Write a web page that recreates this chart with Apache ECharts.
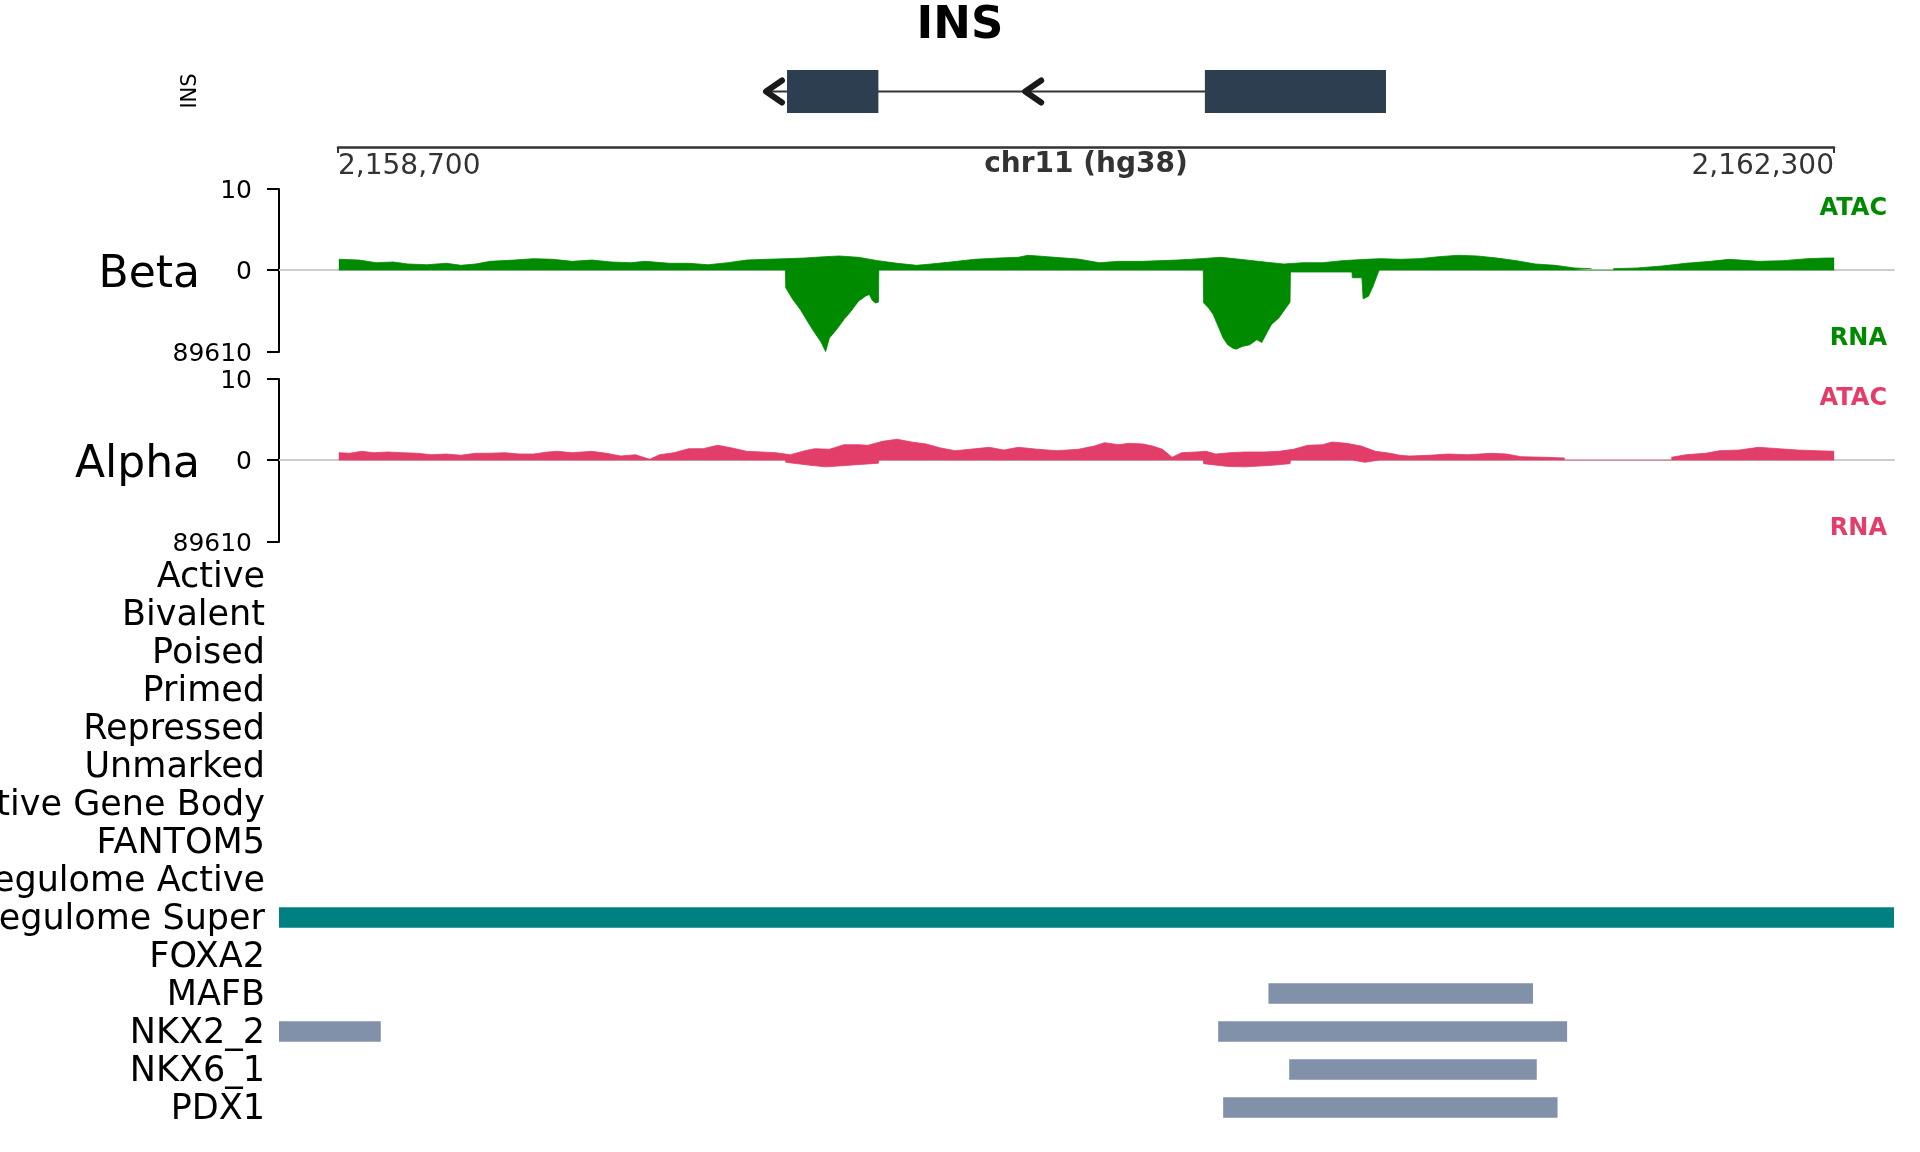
<!DOCTYPE html>
<html><head><meta charset="utf-8">
<script src="https://cdn.jsdelivr.net/npm/echarts@6/dist/echarts.min.js"></script>
<style>html,body{margin:0;padding:0;background:#fff}#c{width:1920px;height:1152px}</style>
</head><body><div id="c"></div>
<script>
// ---------------- data ----------------
const regionStart = 2158700, regionEnd = 2162300;
const viewStart = 2158556, viewEnd = 2162444;
const chromLabel = 'chr11 (hg38)';
const geneName = 'INS';
const geneExons = [[2159779, 2159999], [2160785, 2161221]];
const geneSpan = [2159726, 2161221];
const geneArrows = [2159726, 2160350];
const atacMax = 10, rnaMax = 89610;
const cellTypes = ['Beta', 'Alpha'];

const betaAtac = [[2158700,1.32],[2158749,1.23],[2158790,0.90],[2158831,0.99],[2158866,0.74],[2158912,0.65],[2158959,0.83],[2158994,0.58],[2159029,0.74],[2159064,1.07],[2159122,1.23],[2159169,1.40],[2159216,1.32],[2159262,1.07],[2159309,1.23],[2159356,0.99],[2159402,0.90],[2159437,1.07],[2159496,0.83],[2159542,0.83],[2159589,0.65],[2159636,0.90],[2159682,1.23],[2159729,1.32],[2159776,1.40],[2159822,1.48],[2159869,1.64],[2159904,1.73],[2159951,1.57],[2159998,1.15],[2160044,0.83],[2160091,0.58],[2160126,0.74],[2160173,0.99],[2160231,1.32],[2160289,1.48],[2160336,1.57],[2160359,1.82],[2160406,1.64],[2160480,1.35],[2160531,0.90],[2160578,1.07],[2160636,1.07],[2160718,1.23],[2160776,1.40],[2160823,1.57],[2160870,1.32],[2160928,0.99],[2160975,0.74],[2161021,0.90],[2161068,0.90],[2161115,1.15],[2161173,1.32],[2161208,1.40],[2161255,1.32],[2161301,1.40],[2161348,1.64],[2161395,1.82],[2161441,1.73],[2161488,1.48],[2161535,1.15],[2161581,0.74],[2161628,0.58],[2161675,0.25],[2161716,0.16],[2161740,null],[2161768,0.16],[2161826,0.25],[2161885,0.49],[2161943,0.83],[2162002,1.07],[2162048,1.32],[2162118,1.07],[2162177,1.15],[2162235,1.40],[2162282,1.48],[2162300,1.48]];

const betaRna = [[2158700,0],[2159775,0],[2159776,19500],[2159793,32200],[2159811,43200],[2159828,56100],[2159846,68900],[2159860,78100],[2159872,89100],[2159881,74400],[2159898,65200],[2159916,54200],[2159933,45100],[2159951,34100],[2159968,28600],[2159977,26700],[2159984,33000],[2159992,36000],[2159999,35200],[2160000,0],[2160781,0],[2160782,36000],[2160794,41500],[2160805,48700],[2160817,61600],[2160829,74400],[2160840,81700],[2160852,85400],[2160860,86500],[2160875,83600],[2160893,81700],[2160910,76200],[2160922,79200],[2160934,68900],[2160945,59700],[2160963,52400],[2160980,41500],[2160990,35200],[2160991,2200],[2161139,2200],[2161140,8500],[2161163,8500],[2161166,31600],[2161179,28600],[2161190,17600],[2161202,3000],[2161205,0],[2162300,0]];

const alphaAtac = [[2158700,0.90],[2158726,0.83],[2158755,1.07],[2158784,0.90],[2158819,0.99],[2158854,0.90],[2158889,0.83],[2158924,0.65],[2158959,0.74],[2158994,0.58],[2159029,0.83],[2159064,0.83],[2159099,0.90],[2159134,0.74],[2159169,0.74],[2159204,0.99],[2159227,1.07],[2159262,0.90],[2159309,1.07],[2159344,0.83],[2159379,0.49],[2159414,0.65],[2159449,0.09],[2159472,0.65],[2159507,0.90],[2159542,1.40],[2159577,1.40],[2159612,1.82],[2159647,1.48],[2159682,1.07],[2159717,0.99],[2159752,0.90],[2159787,0.65],[2159822,1.15],[2159846,1.40],[2159881,1.32],[2159916,1.89],[2159951,1.89],[2159974,1.82],[2160009,2.31],[2160044,2.56],[2160079,2.22],[2160114,1.98],[2160149,1.48],[2160184,1.15],[2160219,1.32],[2160266,1.57],[2160301,1.23],[2160336,1.57],[2160383,1.32],[2160429,1.15],[2160480,1.32],[2160519,1.73],[2160543,2.14],[2160578,1.89],[2160601,2.06],[2160636,1.98],[2160659,1.73],[2160683,1.32],[2160706,0.33],[2160729,0.90],[2160764,0.99],[2160788,1.07],[2160811,0.74],[2160846,0.90],[2160881,0.99],[2160928,0.99],[2160963,1.07],[2160998,1.32],[2161033,1.82],[2161068,1.89],[2161091,2.22],[2161126,2.06],[2161161,1.73],[2161196,1.07],[2161231,0.83],[2161255,0.58],[2161278,0.49],[2161325,0.58],[2161371,0.74],[2161418,0.65],[2161476,0.83],[2161511,0.74],[2161546,0.41],[2161605,0.33],[2161651,0.25],[2161700,null],[2161908,0.33],[2161943,0.65],[2161990,0.83],[2162025,1.15],[2162072,1.23],[2162118,1.57],[2162165,1.40],[2162212,1.23],[2162258,1.15],[2162300,1.07]];

const alphaRna = [[2158700,0],[2159775,0],[2159776,2500],[2159830,5500],[2159872,7500],[2159920,6000],[2159999,3500],[2160000,0],[2160781,0],[2160782,4000],[2160840,7000],[2160880,7500],[2160940,6000],[2160990,4000],[2160991,0],[2161140,0],[2161141,1500],[2161170,2500],[2161205,0],[2162300,0]];

const trackNames = ['Active','Bivalent','Poised','Primed','Repressed','Unmarked','Active Gene Body','FANTOM5','Regulome Active','Regulome Super','FOXA2','MAFB','NKX2_2','NKX6_1','PDX1'];
// [track name, start, end]
const trackIntervals = [
  ['Regulome Super', 2158400, 2162600],
  ['MAFB', 2160938, 2161575],
  ['NKX2_2', 2158400, 2158801],
  ['NKX2_2', 2160817, 2161657],
  ['NKX6_1', 2160988, 2161584],
  ['PDX1', 2160829, 2161634]
];

// ---------------- style ----------------
const FONT = 'DejaVu Sans';
const GREEN = '#008A00', PINK = '#E23E69', TEAL = '#008080', SLATE = '#8191A9', EXON = '#2D3E50';
const cellColors = {Beta: GREEN, Alpha: PINK};

const chart = echarts.init(document.getElementById('c'), null, {renderer: 'canvas'});
const fmt = v => Math.round(v).toLocaleString('en-US');

const G = (o) => Object.assign({containLabel: false, outerBoundsMode: 'none'}, o);
const grids = [
  G({left: 338, right: 86, top: 100, height: 47}),   // 0 coordinate ruler
  G({left: 279, right: 26, top: 70, height: 43}),    // 1 gene
  G({left: 279, right: 26, top: 189, height: 81}),   // 2 beta atac
  G({left: 279, right: 26, top: 270, height: 82}),   // 3 beta rna
  G({left: 279, right: 26, top: 379, height: 81}),   // 4 alpha atac
  G({left: 279, right: 26, top: 460, height: 82}),   // 5 alpha rna
  G({left: 279, right: 26, top: 556.5, height: 570}) // 6 annotations
];

const hiddenX = (gi) => ({type: 'value', gridIndex: gi, min: viewStart, max: viewEnd, show: false});
const zeroX = (gi) => ({type: 'value', gridIndex: gi, min: viewStart, max: viewEnd,
  axisLine: {show: true, onZero: false, lineStyle: {color: '#cccccc', width: 2}},
  axisTick: {show: false}, axisLabel: {show: false}, splitLine: {show: false}});
const xAxes = [
  {type: 'value', gridIndex: 0, min: regionStart, max: regionEnd, interval: regionEnd - regionStart,
   axisLine: {show: true, lineStyle: {color: '#333', width: 2.5}},
   axisTick: {show: true, length: 6, lineStyle: {color: '#333', width: 2}},
   splitLine: {show: false},
   axisLabel: {formatter: fmt, fontFamily: FONT, fontSize: 28, color: '#333', margin: 6,
     alignMinLabel: 'left', alignMaxLabel: 'right', showMinLabel: true, showMaxLabel: true}},
  hiddenX(1), zeroX(2), hiddenX(3), zeroX(4), hiddenX(5), hiddenX(6)
];

const sigAxis = (gi, max, inverse) => ({
  type: 'value', gridIndex: gi, min: 0, max: max, interval: max, inverse: inverse,
  axisLine: {show: true, lineStyle: {color: '#000', width: 2}},
  axisTick: {show: true, length: 12, lineStyle: {color: '#000', width: 2}},
  splitLine: {show: false},
  axisLabel: {fontFamily: FONT, fontSize: 25, color: '#000', margin: 27,
    formatter: v => (inverse && v === 0) ? '' : '{t|' + v + '}',
    rich: {t: {fontFamily: FONT, fontSize: 25, color: '#000', padding: [5, 0, 0, 0]}}}
});
const yAxes = [
  {type: 'value', gridIndex: 0, show: false},
  {type: 'value', gridIndex: 1, min: 0, max: 1, show: false},
  sigAxis(2, atacMax, false),
  sigAxis(3, rnaMax, true),
  sigAxis(4, atacMax, false),
  sigAxis(5, rnaMax, true),
  {type: 'category', gridIndex: 6, data: trackNames, inverse: true,
   axisLine: {show: false}, axisTick: {show: false}, splitLine: {show: false},
   axisLabel: {fontFamily: FONT, fontSize: 35, color: '#000', margin: 14, interval: 0,
     formatter: v => '{t|' + v + '}',
     rich: {t: {fontFamily: FONT, fontSize: 35, color: '#000', padding: [5, 0, 0, 0]}}}}
];

const signal = (data, gi, color) => ({
  type: 'line', xAxisIndex: gi, yAxisIndex: gi, data: data, showSymbol: false, symbol: 'none',
  connectNulls: false, animation: false, clip: true, z: 1,
  lineStyle: {color: color, width: 0.8}, areaStyle: {color: color, opacity: 1}
});

const series = [
  {type: 'custom', xAxisIndex: 1, yAxisIndex: 1, data: [geneSpan], animation: false,
   renderItem: (p, api) => {
     const a = api.coord([api.value(0), 0.5]), b = api.coord([api.value(1), 0.5]);
     return {type: 'line', shape: {x1: a[0], y1: a[1], x2: b[0], y2: b[1]}, style: {stroke: '#333', lineWidth: 2}};
   }},
  {type: 'custom', xAxisIndex: 1, yAxisIndex: 1, data: geneArrows.map(v => [v]), animation: false,
   renderItem: (p, api) => {
     const t = api.coord([api.value(0), 0.5]);
     return {type: 'polyline', shape: {points: [[t[0] + 17, t[1] - 11], [t[0] + 1, t[1]], [t[0] + 17, t[1] + 11]]},
       style: {stroke: '#1a1a1a', lineWidth: 6, fill: null, lineJoin: 'round', lineCap: 'round'}};
   }},
  {type: 'custom', xAxisIndex: 1, yAxisIndex: 1, data: geneExons, animation: false,
   renderItem: (p, api) => {
     const a = api.coord([api.value(0), 1]), b = api.coord([api.value(1), 0]);
     return {type: 'rect', shape: {x: a[0], y: a[1], width: b[0] - a[0], height: b[1] - a[1]}, style: {fill: EXON}};
   }},
  signal(betaAtac, 2, GREEN),
  signal(betaRna, 3, GREEN),
  signal(alphaAtac, 4, PINK),
  signal(alphaRna, 5, PINK),
  {type: 'custom', xAxisIndex: 6, yAxisIndex: 6, animation: false, clip: true,
   encode: {x: [1, 2], y: 0},
   data: trackIntervals.map(d => ({value: [trackNames.indexOf(d[0]), d[1], d[2]],
     itemStyle: {color: d[0] === 'Regulome Super' ? TEAL : SLATE}})),
   renderItem: (p, api) => {
     const row = api.value(0);
     const a = api.coord([api.value(1), row]), b = api.coord([api.value(2), row]);
     const h = api.size([0, 1])[1] * 0.545;
     const cs = p.coordSys;
     const shape = echarts.graphic.clipRectByRect({x: a[0], y: a[1] - h / 2, width: b[0] - a[0], height: h},
       {x: cs.x, y: cs.y, width: cs.width, height: cs.height});
     return shape && {type: 'rect', shape: shape, style: {fill: api.visual('color')}};
   }}
];

const txt = (x, y, text, o) => ({type: 'text', x: x, y: y, silent: true,
  style: Object.assign({text: text, fontFamily: FONT, fill: '#000', align: 'left', verticalAlign: 'middle'}, o)});

const graphics = [
  txt(960, 26, geneName, {fontSize: 45, fontWeight: 'bold', align: 'center'}),
  Object.assign(txt(191, 91, geneName, {fontSize: 21, align: 'center'}), {rotation: Math.PI / 2}),
  txt(1086, 165, chromLabel, {fontSize: 28, fontWeight: 'bold', align: 'center', fill: '#333'}),
  txt(200, 276, cellTypes[0], {fontSize: 44, align: 'right'}),
  txt(200, 466, cellTypes[1], {fontSize: 44, align: 'right'}),
  txt(1887, 209, 'ATAC', {fontSize: 24, fontWeight: 'bold', align: 'right', fill: cellColors.Beta}),
  txt(1887, 339, 'RNA', {fontSize: 24, fontWeight: 'bold', align: 'right', fill: cellColors.Beta}),
  txt(1887, 399, 'ATAC', {fontSize: 24, fontWeight: 'bold', align: 'right', fill: cellColors.Alpha}),
  txt(1887, 529, 'RNA', {fontSize: 24, fontWeight: 'bold', align: 'right', fill: cellColors.Alpha})
];

chart.setOption({
  animation: false,
  backgroundColor: '#fff',
  textStyle: {fontFamily: FONT},
  grid: grids,
  xAxis: xAxes,
  yAxis: yAxes,
  series: series,
  graphic: graphics
});
</script></body></html>
